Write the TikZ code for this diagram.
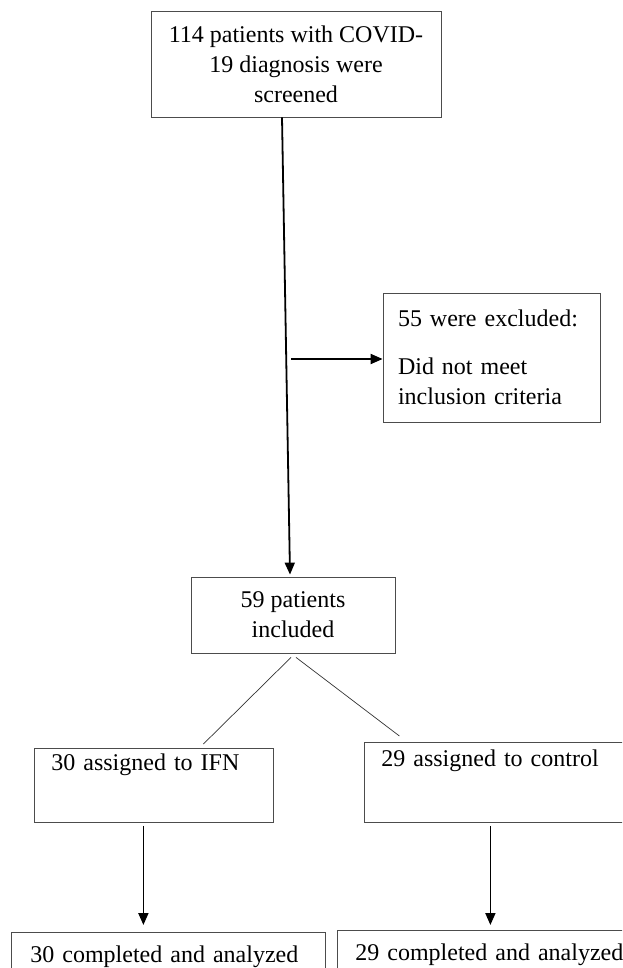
\documentclass[tikz,border=0pt]{standalone}
\usepackage{fontspec}
\setmainfont{Liberation Serif}
\usetikzlibrary{arrows.meta}

\begin{document}
\begin{tikzpicture}[x=1pt, y=-1pt, >={Triangle[length=12pt,width=10pt]},
  box/.style={draw=black!70, line width=0.8pt, inner sep=0pt, font=\fontsize{24}{30}\selectfont},
  flow/.style={->, line width=1.8pt},
  split/.style={line width=0.7pt, draw=black!80}]
\useasboundingbox (0,0) rectangle (622,968);
\clip (0,0) rectangle (622,968);
\node (screen) at (296,64) [box, align=center, minimum width=290pt, minimum height=106pt] {114 patients with COVID-\\19 diagnosis were\\screened};
\node (excl) at (491.5,357.5) [box, align=left, text width=187pt, inner xsep=15pt, minimum height=129pt] {55 were excluded:\\[18pt]Did not meet\\inclusion criteria};
\node (incl) at (293,615) [box, align=center, minimum width=204pt, minimum height=76pt] {59 patients\\included};
\node (ifn) at (34,748) [box, anchor=north west, align=left, text width=205pt, inner xsep=17pt, text height=22pt, text depth=52pt] {30 assigned to IFN};
\node (ctrl) at (364,742) [box, anchor=north west, align=left, text width=266pt, inner xsep=17pt, text height=24pt, text depth=56pt] {29 assigned to control};
\node (donel) at (11,932) [box, anchor=north west, align=left, text width=276pt, inner xsep=19pt, text height=30pt, text depth=40pt] {30 completed and analyzed};
\node (doner) at (337,930) [box, anchor=north west, align=left, text width=300pt, inner xsep=18pt, text height=30pt, text depth=40pt] {29 completed and analyzed};
% screening and exclusion
\coordinate (branch) at (291,359);
\draw[flow] ([xshift=-14pt]screen.south) -- ([xshift=-3pt,yshift=2pt]incl.north);
\draw[flow] (branch) -- (branch -| excl.west);
% randomisation
\draw[split] ([xshift=-2pt,yshift=-4pt]incl.south) -- ([xshift=49.5pt,yshift=4pt]ifn.north);
\draw[split] ([xshift=3pt,yshift=-4pt]incl.south) -- ([xshift=-115pt,yshift=6pt]ctrl.north);
\draw[flow] ([xshift=-10.5pt,yshift=-3pt]ifn.south) -- ([xshift=-10.5pt,yshift=7pt]ifn.south |- donel.north);
\draw[flow] ([xshift=-24pt,yshift=-3pt]ctrl.south) -- ([xshift=-24pt,yshift=5pt]ctrl.south |- doner.north);
\end{tikzpicture}
\end{document}
